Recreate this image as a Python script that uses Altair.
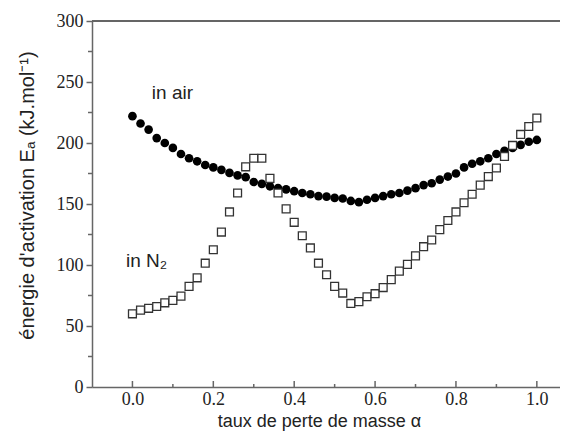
import altair as alt
import pandas as pd

# ---- data ----
air_x = [0.00, 0.02, 0.04, 0.06, 0.08, 0.10, 0.12, 0.14, 0.16, 0.18,
         0.20, 0.22, 0.24, 0.26, 0.28, 0.30, 0.32, 0.34, 0.36, 0.38,
         0.40, 0.42, 0.44, 0.46, 0.48, 0.50, 0.52, 0.54, 0.56, 0.58,
         0.60, 0.62, 0.64, 0.66, 0.68, 0.70, 0.72, 0.74, 0.76, 0.78,
         0.80, 0.82, 0.84, 0.86, 0.88, 0.90, 0.92, 0.94, 0.96, 0.98, 1.00]
air_y = [222, 216, 211, 204, 200, 196, 191, 187.5, 185, 182,
         180, 178, 175.5, 173.5, 172, 168, 166.5, 164.5, 163, 162,
         160.5, 159, 158, 156.5, 156, 155, 154.5, 152.5, 151.5, 153.5,
         155, 156.5, 158, 159, 161, 163, 165.5, 167, 170, 172.5,
         175, 180, 183, 185, 187.5, 191, 193.5, 196, 198.5, 201, 202.5]

n2_x = [0.00, 0.02, 0.04, 0.06, 0.08, 0.10, 0.12, 0.14, 0.16, 0.18,
        0.20, 0.22, 0.24, 0.26, 0.28, 0.30, 0.32, 0.34, 0.36, 0.38,
        0.40, 0.42, 0.44, 0.46, 0.48, 0.50, 0.52, 0.54, 0.56, 0.58,
        0.60, 0.62, 0.64, 0.66, 0.68, 0.70, 0.72, 0.74, 0.76, 0.78,
        0.80, 0.82, 0.84, 0.86, 0.88, 0.90, 0.92, 0.94, 0.96, 0.98, 1.00]
n2_y = [60, 63, 64.5, 66, 69, 71, 74.5, 82.5, 89.5, 101.5,
        112.5, 127, 143.5, 159, 180.5, 187.5, 187.5, 171, 159, 146,
        135, 124, 114, 101.5, 92, 82.5, 77, 68.5, 70, 74,
        76.5, 81.5, 88, 95, 100.5, 107.5, 115, 120.5, 129, 136.5,
        143.5, 151, 158, 165.5, 172.5, 179.5, 189, 198, 207, 213.5, 220.5]

x_major = [0.0, 0.2, 0.4, 0.6, 0.8, 1.0]
x_minor = [0.1, 0.3, 0.5, 0.7, 0.9]
y_major = [0, 50, 100, 150, 200, 250, 300]
y_minor = [25, 75, 125, 175, 225, 275]

labels_text = ["in air", "in N\u2082"]
labels_x = [0.048, -0.016]
labels_y = [236, 98.7]

x_title = "taux de perte de masse \u03b1"
y_title = "\u00e9nergie d'activation E\u2090 (kJ.mol\u207b\u00b9)"

# ---- build ----
W, H = 468, 366
XMAX = -0.1 + W / 404.4
SANS = "Liberation Sans"
SERIF = "Liberation Serif"
AX = "#666666"
TXT = "#222222"

air = pd.DataFrame({"x": air_x, "y": air_y})
n2 = pd.DataFrame({"x": n2_x, "y": n2_y})
xmaj = pd.DataFrame({"t": x_major})
xmin = pd.DataFrame({"t": x_minor})
ymin = pd.DataFrame({"t": y_minor})
lab = pd.DataFrame({"text": labels_text, "x": labels_x, "y": labels_y})

xscale = alt.Scale(domain=[-0.1, XMAX], nice=False, zero=False)
yscale = alt.Scale(domain=[0, 300], nice=False)

xaxis = alt.Axis(values=x_major, format=".1f", ticks=False, tickSize=0, grid=False,
                 labelFont=SERIF, labelFontSize=18, labelColor=TXT, labelPadding=3,
                 domainColor=AX, domainWidth=1.5,
                 title=x_title, titleFont=SANS, titleFontSize=18, titleFontWeight="normal",
                 titleColor=TXT, titleX=227, titleY=39, titleAlign="center",
                 titleBaseline="alphabetic", titleAngle=0)
yaxis = alt.Axis(values=y_major, format="d", ticks=True, tickSize=6, tickColor=AX, tickWidth=1.5,
                 grid=False, labelFont=SERIF, labelFontSize=18, labelColor=TXT, labelPadding=3,
                 domainColor=AX, domainWidth=1.5,
                 title=y_title, titleFont=SANS, titleFontSize=20, titleFontWeight="normal",
                 titleColor=TXT, titleX=-65, titleY=174, titleAngle=270,
                 titleAlign="center", titleBaseline="middle")

circles = alt.Chart(air).mark_circle(size=75, color="black", opacity=1).encode(
    x=alt.X("x:Q", scale=xscale, axis=xaxis),
    y=alt.Y("y:Q", scale=yscale, axis=yaxis),
)
squares = alt.Chart(n2).mark_point(shape="square", filled=False, fill="white", fillOpacity=1,
                                   stroke="#333333", strokeWidth=1.3, size=62, opacity=1).encode(
    x=alt.X("x:Q", scale=xscale),
    y=alt.Y("y:Q", scale=yscale),
)
top_line = alt.Chart(ymin).mark_rule(color=AX, strokeWidth=1.5).encode(
    x=alt.value(0), x2=alt.value(W), y=alt.value(0))
xmaj_ticks = alt.Chart(xmaj).mark_rule(color=AX, strokeWidth=1.5).encode(
    x=alt.X("t:Q", scale=xscale), y=alt.value(H), y2=alt.value(H - 6))
xmin_ticks = alt.Chart(xmin).mark_rule(color=AX, strokeWidth=1.5).encode(
    x=alt.X("t:Q", scale=xscale), y=alt.value(H), y2=alt.value(H - 3))
ymin_ticks = alt.Chart(ymin).mark_rule(color=AX, strokeWidth=1.5).encode(
    y=alt.Y("t:Q", scale=yscale), x=alt.value(-4), x2=alt.value(0))
texts = alt.Chart(lab).mark_text(font=SANS, fontSize=19, color=TXT, align="left",
                                 baseline="alphabetic").encode(
    x=alt.X("x:Q", scale=xscale), y=alt.Y("y:Q", scale=yscale), text="text:N")

chart = alt.layer(circles, squares, top_line, xmaj_ticks, xmin_ticks, ymin_ticks, texts).properties(
    width=W, height=H,
    autosize=alt.AutoSizeParams(type="none"),
    padding={"left": 84, "top": 13, "right": 0, "bottom": 44},
    background="white",
).configure_view(strokeWidth=0)

chart.save("out.html", embed_options={"renderer": "svg", "actions": False})
